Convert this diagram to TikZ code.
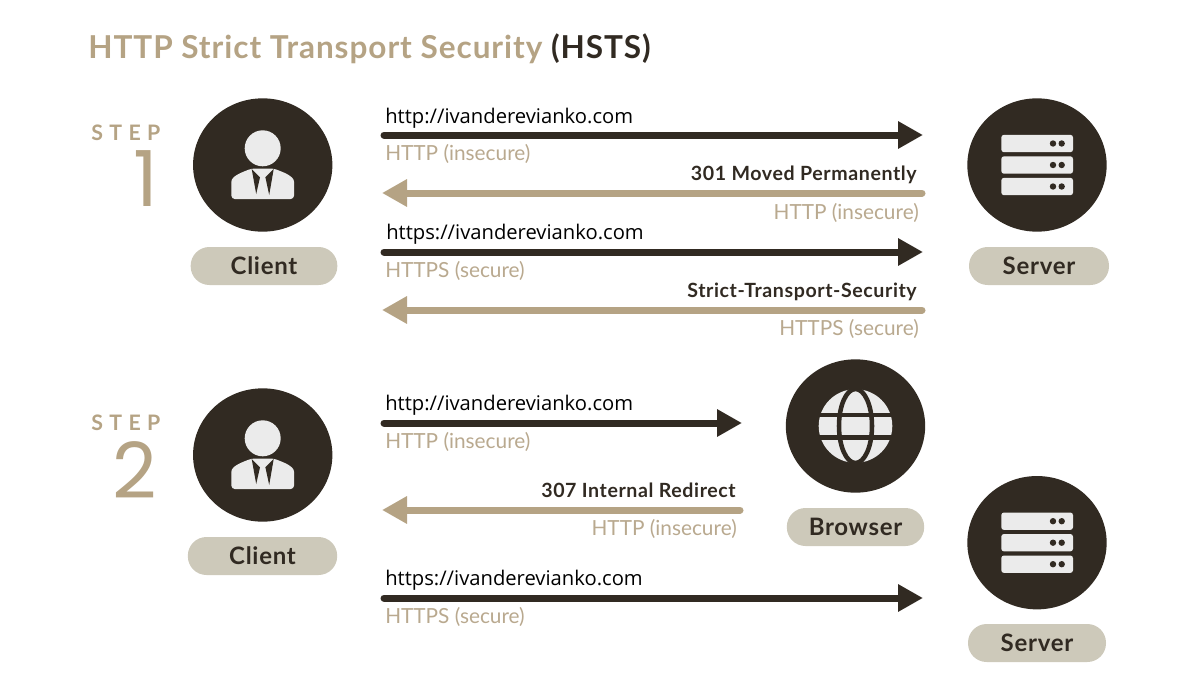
\documentclass[tikz,border=0pt]{standalone}
\usepackage{fontspec}
\usepackage{tikz}
\usetikzlibrary{arrows.meta,shapes.geometric}
\setmainfont{Lato}
\newfontfamily\urlfont{Open Sans}
\newfontfamily\stepfont[LetterSpace=30]{Lato}
\newfontfamily\numfont{Poppins}
\newfontfamily\titlefont[LetterSpace=3]{Lato}
\newfontfamily\capfont[LetterSpace=3]{Lato}
\definecolor{inkdark}{HTML}{312A22}
\definecolor{inktan}{HTML}{B5A384}
\definecolor{labeltan}{HTML}{B9A98F}
\definecolor{pillgrey}{HTML}{CDC9BA}
\definecolor{iconwhite}{HTML}{EBEBEB}
\tikzset{
    disc/.style={ellipse, fill=inkdark, minimum width=104.5pt, minimum height=100pt, inner sep=0pt},
    pill/.style={rounded corners=14pt, fill=pillgrey, text=inkdark, minimum height=28.5pt, inner sep=0pt, font=\capfont\bfseries\fontsize{18}{18}\selectfont},
    urltext/.style={anchor=base west, inner sep=0pt, text=black, font=\urlfont\fontsize{15.15}{15}\selectfont},
    lefttag/.style={anchor=base west, inner sep=0pt, text=labeltan, font=\fontsize{15.6}{16}\selectfont},
    righttag/.style={anchor=base east, inner sep=0pt, text=labeltan, font=\fontsize{15.6}{16}\selectfont},
    headtext/.style={anchor=base east, inner sep=0pt, text=inkdark, font=\capfont\bfseries\fontsize{14.7}{15}\selectfont},
    steptext/.style={anchor=base west, inner sep=0pt, text=inktan, font=\stepfont\bfseries\fontsize{16}{16}\selectfont},
    numtext/.style={anchor=base, inner sep=0pt, text=inktan, font=\numfont\fontsize{58}{58}\selectfont},
    goarrow/.style={draw=inkdark, line width=5.25pt, line cap=round, -{Triangle[length=18.75pt, width=19.5pt]}},
    backarrow/.style={draw=inktan, line width=5.25pt, line cap=round, -{Triangle[length=18.75pt, width=19.5pt]}},
    person/.pic={
        \fill[iconwhite] (0,-16.7) circle (18);
        \fill[iconwhite, rounded corners=2.5pt] (-31.3,34) -- (-31.3,20) .. controls (-31.3,11) and (-20,7) .. (-11,3.5) -- (11,3.5) .. controls (20,7) and (31.3,11) .. (31.3,20) -- (31.3,34) -- cycle;
        \fill[inkdark] (-11,4) -- (-2.7,12.3) -- (-6.5,29) -- cycle;
        \fill[inkdark] (11,4) -- (2.7,12.3) -- (6.5,30) -- cycle;
    },
    rack/.pic={
        \foreach \rowy in {-21.5,0,21.5} {
            \fill[iconwhite, rounded corners=2pt] (-35.7,\rowy-8.7) rectangle (36,\rowy+8.7);
            \fill[inkdark] (16,\rowy) circle (3.2);
            \fill[inkdark] (24.7,\rowy) circle (3.2);
        }
    },
    globe/.pic={
        \fill[iconwhite] (0,0) circle (36.8);
        \draw[inkdark, line width=3.4pt] (0,0) ellipse (16.5 and 37);
        \draw[inkdark, line width=3.4pt] (-37,-11) -- (37,-11);
        \draw[inkdark, line width=3.4pt] (-37,11.3) -- (37,11.3);
    }
}

\begin{document}
\begin{tikzpicture}[x=0.75pt, y=-0.75pt]
    \useasboundingbox (0,0) rectangle (1200,675);

    % Title
    \node[anchor=base west, inner sep=0pt, font=\titlefont\bfseries\fontsize{23.66}{24}\selectfont] (title) at (88,58) {\textcolor{inktan}{HTTP Strict Transport Security} \textcolor{inkdark}{(HSTS)}};

    % Nodes
    \node[steptext] (stepA) at (91,140) {STEP};
    \node[numtext] (numA) at (145.5,206) {1};
    \node[steptext] (stepB) at (91,430) {STEP};
    \node[numtext] (numB) at (135,498) {2};

    \node[disc] (clientA) at (262.7,165) {};
    \node[disc] (serverA) at (1037,165) {};
    \node[disc] (clientB) at (262.7,455) {};
    \node[disc] (browser) at (855.5,426) {};
    \node[disc] (serverB) at (1037,542.7) {};

    \pic at (clientA) {person};
    \pic at (serverA) {rack};
    \pic at (clientB) {person};
    \pic at (browser) {globe};
    \pic at (serverB) {rack};

    \node[pill, minimum width=110pt] (clientAtag) at (264,266) {Client};
    \node[pill, minimum width=105pt] (serverAtag) at (1039,266) {Server};
    \node[pill, minimum width=112pt] (clientBtag) at (262.5,556) {Client};
    \node[pill, minimum width=103pt] (browsertag) at (855.5,527) {Browser};
    \node[pill, minimum width=103.5pt] (serverBtag) at (1037,643) {Server};

    % arrow ends
    \coordinate (goAs) at (384,135);
    \coordinate (goAe) at (923,135);
    \coordinate (backAs) at (922,193);
    \coordinate (backAe) at (382,193);
    \coordinate (goBs) at (384,252);
    \coordinate (goBe) at (923,252);
    \coordinate (backBs) at (922,310);
    \coordinate (backBe) at (382,310);
    \coordinate (goCs) at (384,423);
    \coordinate (goCe) at (742,423);
    \coordinate (backCs) at (740,510);
    \coordinate (backCe) at (382,510);
    \coordinate (goDs) at (384,598);
    \coordinate (goDe) at (923,598);

    % edges
    \draw[goarrow] (goAs) -- (goAe);
    \draw[backarrow] (backAs) -- (backAe);
    \draw[goarrow] (goBs) -- (goBe);
    \draw[backarrow] (backBs) -- (backBe);
    \draw[goarrow] (goCs) -- (goCe);
    \draw[backarrow] (backCs) -- (backCe);
    \draw[goarrow] (goDs) -- (goDe);

    % Labels
    \node[urltext] (urlA) at (385,123) {http://ivanderevianko.com};
    \node[lefttag] (tagA) at (385,160) {HTTP (insecure)};
    \node[headtext] (headA) at (917,180) {301 Moved Permanently};
    \node[righttag] (tagB) at (919,219) {HTTP (insecure)};
    \node[urltext] (urlB) at (386,239) {https://ivanderevianko.com};
    \node[lefttag] (tagC) at (385,277) {HTTPS (secure)};
    \node[headtext] (headB) at (917,297) {Strict-Transport-Security};
    \node[righttag] (tagD) at (919,335) {HTTPS (secure)};
    \node[urltext] (urlC) at (385,410) {http://ivanderevianko.com};
    \node[lefttag] (tagE) at (385,448) {HTTP (insecure)};
    \node[headtext] (headC) at (736,497) {307 Internal Redirect};
    \node[righttag] (tagF) at (737,535) {HTTP (insecure)};
    \node[urltext] (urlD) at (385,585) {https://ivanderevianko.com};
    \node[lefttag] (tagG) at (385,623) {HTTPS (secure)};
\end{tikzpicture}
\end{document}
